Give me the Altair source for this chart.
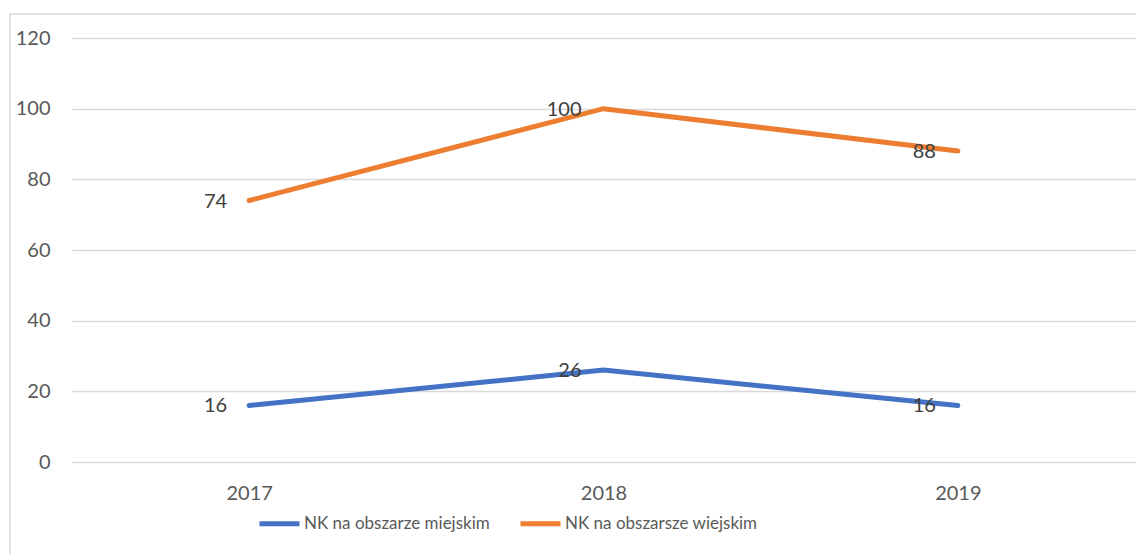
import altair as alt
import pandas as pd

years = ["2017", "2018", "2019"]
series_names = ["NK na obszarze miejskim", "NK na obszarsze wiejskim"]
miejskim = [16, 26, 16]
wiejskim = [74, 100, 88]
colors = ["#4472C4", "#ED7D31"]
y_ticks = [0, 20, 40, 60, 80, 100, 120]

rows = []
for y, v in zip(years, miejskim):
    rows.append({"year": y, "value": v, "series": series_names[0]})
for y, v in zip(years, wiejskim):
    rows.append({"year": y, "value": v, "series": series_names[1]})
df = pd.DataFrame(rows)

FONT = "Lato"
FS = 20
W, H = 1063, 424

x = alt.X("year:N", sort=years, title=None,
          scale=alt.Scale(type="point", padding=0.5),
          axis=alt.Axis(labelAngle=0, ticks=False, domain=False, grid=False,
                        labelPadding=21, labelFontSize=FS, labelColor="#595959",
                        labelFont=FONT))
y = alt.Y("value:Q", title=None,
          scale=alt.Scale(domain=[0, 120]),
          axis=alt.Axis(values=y_ticks, ticks=False, domain=False, grid=True,
                        gridColor="#d9d9d9", gridWidth=1.5,
                        labelPadding=22, labelFontSize=FS, labelColor="#595959",
                        labelFont=FONT))
color = alt.Color("series:N", sort=series_names,
                  scale=alt.Scale(domain=series_names, range=colors),
                  legend=alt.Legend(title=None, orient="none", direction="horizontal",
                                    legendX=185, legendY=463,
                                    symbolType="stroke", symbolSize=1600,
                                    symbolStrokeWidth=5, labelFontSize=17,
                                    labelColor="#595959", labelFont=FONT,
                                    columnPadding=20, labelOffset=2,
                                    labelLimit=400))

lines = alt.Chart(df).mark_line(strokeWidth=5, strokeCap="round").encode(
    x=x, y=y, color=color, detail="series:N")

labels = alt.Chart(df).mark_text(align="right", baseline="middle", dx=-22, dy=1,
                                 fontSize=FS, font=FONT, color="#404040").encode(
    x=alt.X("year:N", sort=years), y="value:Q", text="value:Q")

frame = alt.Chart(pd.DataFrame({"a": [0]})).mark_rect(
    fill=None, stroke="#d9d9d9", strokeWidth=1.5).encode(
    x=alt.value(-62), x2=alt.value(W + 40), y=alt.value(-24), y2=alt.value(H + 140))

chart = alt.layer(frame, lines, labels).properties(
    width=W, height=H,
    autosize=alt.AutoSizeParams(type="none"),
    padding={"left": 64, "top": 30, "right": 1, "bottom": 110},
    background="white",
).configure_view(stroke=None)

chart.save("out.html", embed_options={"renderer": "svg", "actions": False})
